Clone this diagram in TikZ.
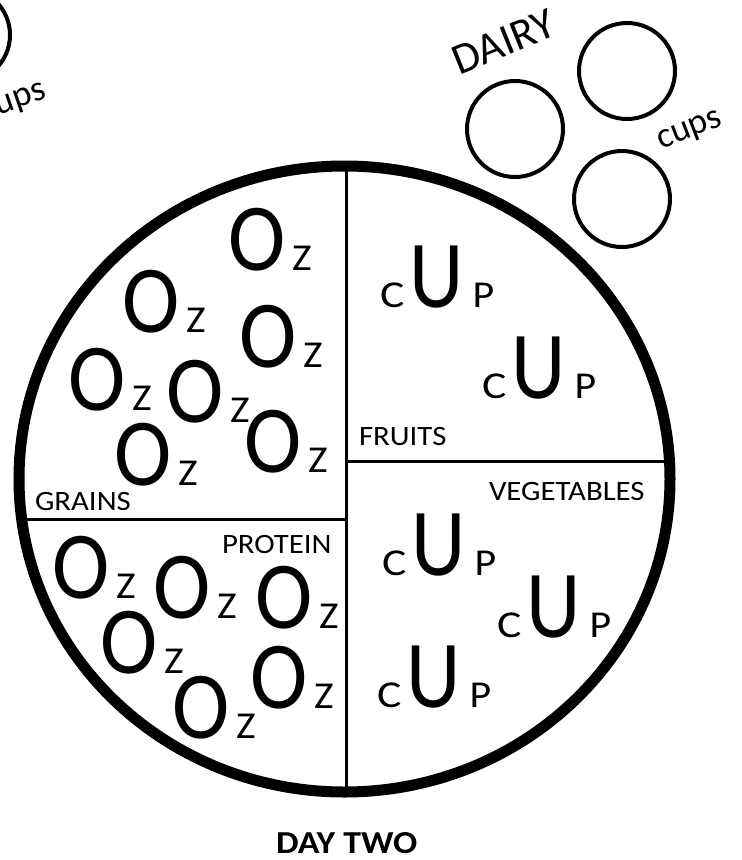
\documentclass[tikz,border=0pt]{standalone}
\usepackage{fontspec}
\setmainfont{Carlito}
\usepackage{graphicx}
\newcommand\bigfnt{\fontsize{96}{96}\selectfont}
\newcommand\smfnt{\fontsize{38}{38}\selectfont}
\newcommand\lblfnt{\fontsize{28}{28}\selectfont}
\newcommand\ozz{\scalebox{0.9}[1]{\bigfnt O}\hspace{7pt}\scalebox{1.1}[1]{\smfnt Z}}
\newcommand\cupp{\scalebox{1.2}[1]{\smfnt C}\hspace{5pt}\scalebox{0.88}[1]{\bigfnt U}\hspace{9pt}\scalebox{1.1}[1]{\smfnt P}}
\newcommand\lbl[1]{\scalebox{1.1}[1]{\lblfnt #1}}
\begin{document}
\begin{tikzpicture}[x=1pt,y=-1pt,
  txt/.style={inner sep=0pt,outer sep=0pt,anchor=base west},
  cupring/.style={line width=4pt},
  divider/.style={line width=3pt}]
\useasboundingbox (0,0) rectangle (742,860);
\clip (0,0) rectangle (742,860);
% dividers
\coordinate (top) at (346,166);
\coordinate (bot) at (346,792);
\coordinate (lw) at (18,519);
\coordinate (lm) at (346,519);
\coordinate (rm) at (346,461);
\coordinate (re) at (671,461);
\draw[divider] (top) -- (bot);
\draw[divider] (lw) -- (lm);
\draw[divider] (rm) -- (re);
% plate
\draw[line width=11pt] (344.5,479) ellipse [x radius=325.5, y radius=313];
% dairy cups
\draw[cupring] (515,129) circle[radius=48];
\draw[cupring] (627,71) circle[radius=48];
\draw[cupring] (622,199) circle[radius=48];
\draw[cupring] (-37,35) circle[radius=47];
\node[txt,rotate=22] (dairy) at (459,75) {\fontsize{44}{44}\selectfont DAIRY};
\node[txt,rotate=21] (cups1) at (661,149) {\fontsize{36}{36}\selectfont cups};
\node[txt,rotate=19] (cups0) at (-16,120) {\fontsize{36}{36}\selectfont cups};
% labels
\node[txt] (grains) at (35,510) {\lbl{GRAINS}};
\node[txt] (protein) at (222,553) {\lbl{PROTEIN}};
\node[txt] (fruits) at (359,445) {\lbl{FRUITS}};
\node[txt] (veg) at (489,500) {\lbl{VEGETABLES}};
\node[txt] (day) at (276,853) {\scalebox{1.12}[1]{\fontsize{32}{32}\selectfont\bfseries DAY TWO}};
% grains
\node[txt] (g1) at (228,270) {\ozz};
\node[txt] (g2) at (122,332) {\ozz};
\node[txt] (g3) at (239,367) {\ozz};
\node[txt] (g4) at (68,410) {\ozz};
\node[txt] (g5) at (166,422) {\ozz};
\node[txt] (g6) at (244,472) {\ozz};
\node[txt] (g7) at (114,485) {\ozz};
% protein
\node[txt] (p1) at (52,598) {\ozz};
\node[txt] (p2) at (153,618) {\ozz};
\node[txt] (p3) at (255,628) {\ozz};
\node[txt] (p4) at (100,673) {\ozz};
\node[txt] (p5) at (250,708) {\ozz};
\node[txt] (p6) at (172,738) {\ozz};
% fruits
\node[txt] (f1) at (380,307) {\cupp};
\node[txt] (f2) at (482,398) {\cupp};
% vegetables
\node[txt] (v1) at (382,575) {\cupp};
\node[txt] (v2) at (497,637) {\cupp};
\node[txt] (v3) at (377,707) {\cupp};
\end{tikzpicture}
\end{document}
